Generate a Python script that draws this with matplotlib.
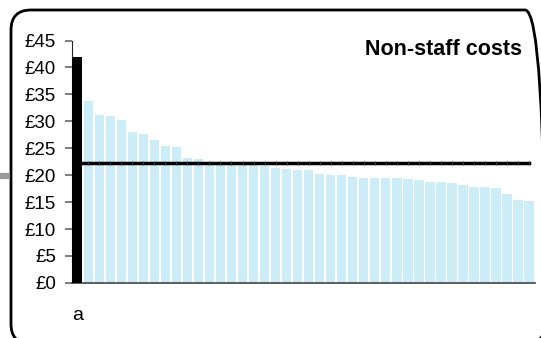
import matplotlib.pyplot as plt
from matplotlib.patches import FancyBboxPatch
from matplotlib.lines import Line2D
from matplotlib.transforms import IdentityTransform

plt.rcParams['font.family'] = ['Liberation Sans', 'DejaVu Sans']

# Non-staff cost per unit, sorted (first bar highlighted)
labels = ['a'] + [''] * 41
costs = [42.0, 33.8, 31.2, 31.0, 30.3, 28.0, 27.7, 26.5, 25.4, 25.2,
         23.2, 23.0, 22.2, 22.1, 22.0, 22.0, 21.9, 21.7, 21.3, 21.1,
         20.95, 20.95, 20.2, 20.0, 20.0, 19.65, 19.5, 19.5, 19.5, 19.5,
         19.3, 19.1, 18.7, 18.7, 18.55, 18.2, 17.8, 17.8, 17.6, 16.5,
         15.4, 15.2]
average = 22.2
yticks = [0, 5, 10, 15, 20, 25, 30, 35, 40, 45]

W, H = 541, 338
fig = plt.figure(figsize=(W / 100, H / 100), dpi=100)

# rounded frame (pixel coordinates, origin bottom-left) and grey stub on the left
frame = FancyBboxPatch((11, -6), 534, 334, boxstyle='round,pad=0,rounding_size=20',
                       fill=False, lw=2, ec='black', transform=IdentityTransform())
fig.patches.append(frame)
fig.lines.append(Line2D([0, 10 / W], [1 - 176 / H, 1 - 176 / H], transform=fig.transFigure,
                        color='#999999', lw=4.5, solid_capstyle='butt'))

ax = fig.add_axes([0.134, 0.163, 0.855, 0.717])
x = list(range(len(costs)))
colors = ['#000000'] + ['#CCECF8'] * (len(costs) - 1)
ax.plot(x, [average] * len(x), color='black', lw=2.5, zorder=2,
        marker='|', markersize=3, markeredgecolor='#3a3a3a', markeredgewidth=0.7)
ax.bar(x, costs, width=0.86, color=colors, zorder=1)
ax.bar(x[:1], costs[:1], width=0.86, color='black', zorder=3)

ax.set_xlim(-0.43, 41.55)
ax.set_ylim(0, 45)
ax.set_yticks(yticks)
ax.set_yticklabels([f'£{v}' for v in yticks], fontsize=13.5)
ax.set_xticks(x)
ax.set_xticklabels(labels, fontsize=14)
ax.tick_params(axis='x', length=0, pad=17)
ax.tick_params(axis='y', direction='out', length=4.7, width=1.2, color='#666666', pad=7)

for s in ['top', 'right']:
    ax.spines[s].set_visible(False)
ax.spines['left'].set_color('#222222')
ax.spines['bottom'].set_color('#444444')
ax.spines['bottom'].set_linewidth(1.2)

ax.text(0.972, 1.008, 'Non-staff costs', transform=ax.transAxes, ha='right', va='top',
        fontsize=15.5, fontweight='bold')

fig.savefig('out.png', dpi=100)
